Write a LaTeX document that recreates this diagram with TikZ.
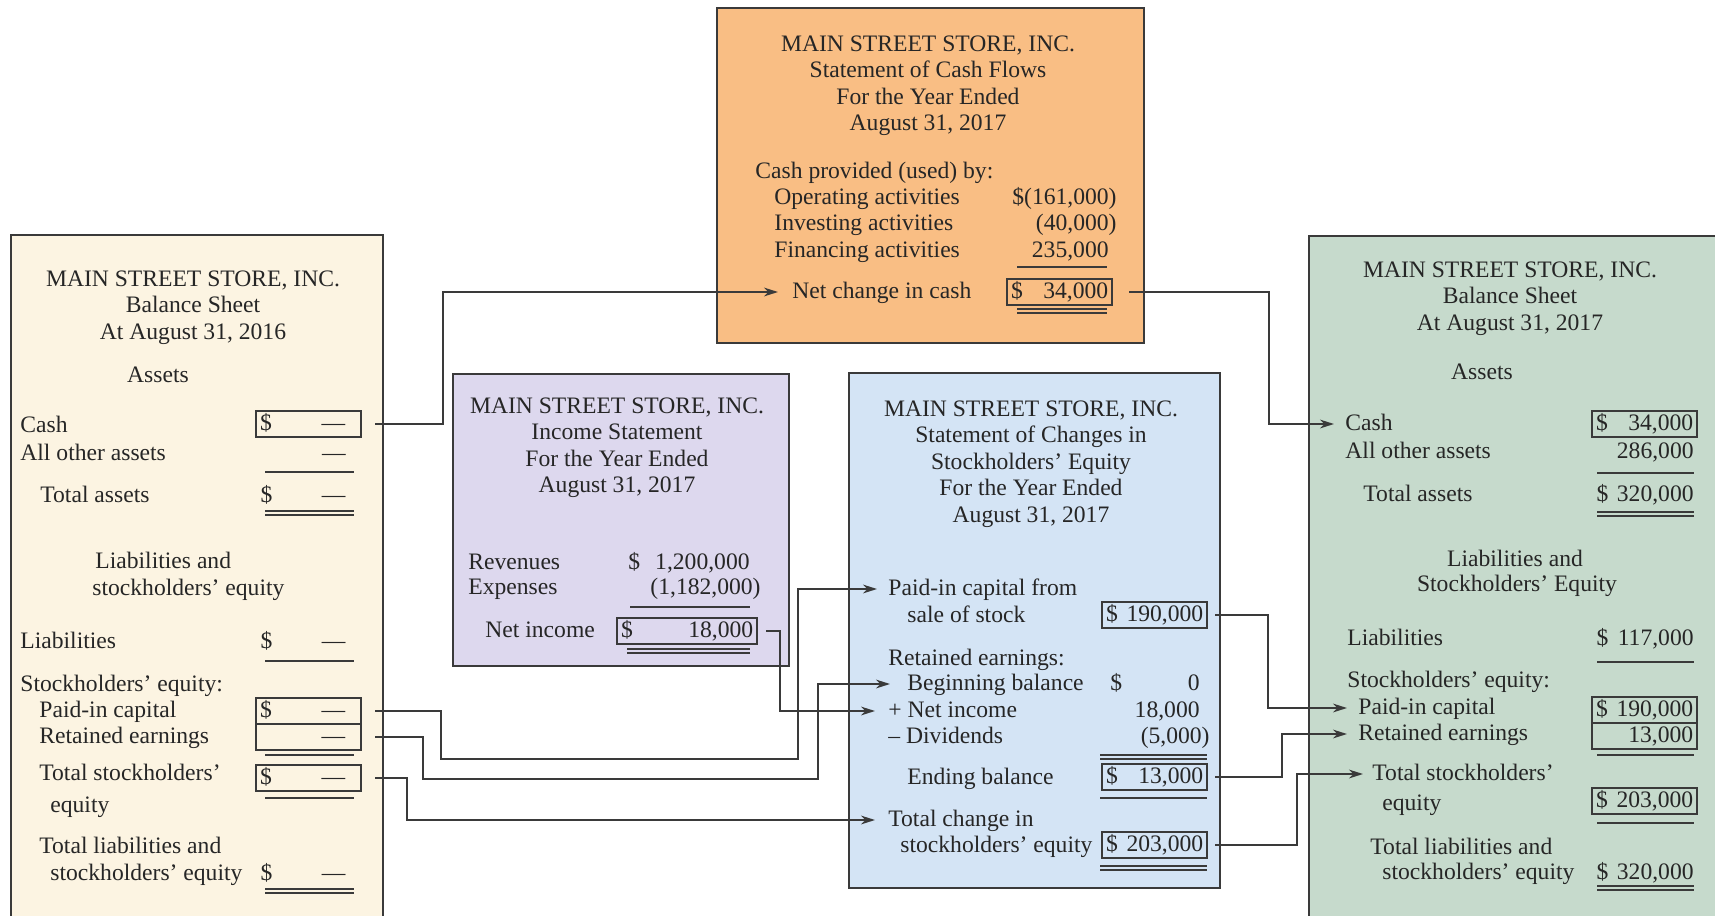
\documentclass[tikz,border=0pt]{standalone}
\usepackage{fontspec}
\setmainfont{Liberation Serif}
\usepackage{tikz}
\usetikzlibrary{arrows.meta,positioning,calc}
\definecolor{ink}{HTML}{262626}
\definecolor{rimgray}{HTML}{3A3A3A}
\definecolor{cream}{HTML}{FCF4E2}
\definecolor{apricot}{HTML}{F9BE84}
\definecolor{lilac}{HTML}{DDD8EE}
\definecolor{sky}{HTML}{D4E4F5}
\definecolor{sage}{HTML}{C6DACC}
\newcommand{\nilamt}{---\kern6pt}

\begin{document}
\begin{tikzpicture}[x=0.5pt,y=-0.5pt,
    font=\fontsize{11.8pt}{13.3pt}\selectfont,text=ink,
    sheet/.style={draw=rimgray,line width=1pt},
    ttl/.style={anchor=north,align=center,inner sep=0pt},
    lbl/.style={anchor=west,inner sep=0pt,text height=9pt,text depth=2.5pt},
    amt/.style={anchor=east,inner sep=0pt,text height=9pt,text depth=2.5pt},
    ctr/.style={inner sep=0pt,text height=9pt,text depth=2.5pt},
    valtxt/.style={anchor=east,text width=48.5pt,inner xsep=2pt,inner ysep=0.5pt,text height=9pt,text depth=3pt},
    valbox/.style={valtxt,draw=rimgray,line width=0.8pt},
    rule/.style={draw=rimgray,line width=0.8pt},
    link/.style={draw=rimgray,line width=0.8pt,-{Stealth[length=7pt,width=4.4pt]}}]
\useasboundingbox (0,0) rectangle (1715,916);
\draw[sheet,fill=cream] (11,235) rectangle (383,930);
\draw[sheet,fill=apricot] (717,8) rectangle (1144,343);
\draw[sheet,fill=lilac] (453,374) rectangle (789,666);
\draw[sheet,fill=sky] (849,373) rectangle (1220,888);
\draw[sheet,fill=sage] (1309,236) rectangle (1725,930);

\node[ttl] (headA) at (193,270) {MAIN STREET STORE, INC.\\Balance Sheet\\At August 31, 2016};
\node[ctr] (assetsA) at (158,376) {Assets};
\node[lbl] (cashAl) at (20,426) {Cash};
\node[valbox] (cashA) at (362,424) {\$\hfill\nilamt};
\node[lbl] (otherA) at (20,454) {All other assets};
\node[valtxt] (otherAv) at (362,454) {\hfill\nilamt};
\node[lbl] (totassA) at (40,496) {Total assets};
\node[valtxt] (totassAv) at (362,496) {\$\hfill\nilamt};
\node[lbl] (liabhA) at (95,562) {Liabilities and};
\node[lbl] (liabhA2) at (92,589) {stockholders' equity};
\node[lbl] (liabA) at (20,642) {Liabilities};
\node[valtxt] (liabAv) at (362,642) {\$\hfill\nilamt};
\node[lbl] (seA) at (20,685) {Stockholders' equity:};
\node[lbl] (paidAl) at (39,711) {Paid-in capital};
\node[valbox] (paidA) at (362,711) {\$\hfill\nilamt};
\node[lbl] (retAl) at (39,737) {Retained earnings};
\node[valbox] (retA) at (362,737) {\hfill\nilamt};
\node[lbl] (totAl) at (39,774) {Total stockholders'};
\node[lbl] (totAl2) at (50,806) {equity};
\node[valbox] (totA) at (362,778) {\$\hfill\nilamt};
\node[lbl] (tleA) at (39,847) {Total liabilities and};
\node[lbl] (tleA2) at (50,874) {stockholders' equity};
\node[valtxt] (tleAv) at (362,874) {\$\hfill\nilamt};
\draw[rule] (265,472) -- (354,472);
\draw[rule] (265,511) -- (354,511) (265,515) -- (354,515);
\draw[rule] (265,661) -- (354,661);
\draw[rule] (265,755) -- (354,755);
\draw[rule] (265,798) -- (354,798);
\draw[rule] (265,889) -- (354,889) (265,893) -- (354,893);

\node[ttl] (headCF) at (928,35) {MAIN STREET STORE, INC.\\Statement of Cash Flows\\For the Year Ended\\August 31, 2017};
\node[lbl] (provCF) at (755,172) {Cash provided (used) by:};
\node[lbl] (opCF) at (774,198) {Operating activities};
\node[amt] (opCFv) at (1117,198) {\$(161,000)};
\node[lbl] (invCF) at (774,224) {Investing activities};
\node[amt] (invCFv) at (1117,224) {(40,000)};
\node[lbl] (finCF) at (774,251) {Financing activities};
\node[amt] (finCFv) at (1109,251) {235,000};
\node[lbl] (netchg) at (792,292) {Net change in cash};
\node[valbox] (netbox) at (1113,292) {\$\hfill 34,000};
\draw[rule] (1017,267) -- (1107,267);
\draw[rule] (1017,309) -- (1107,309) (1017,313) -- (1107,313);

\node[ttl] (headIS) at (617,397) {MAIN STREET STORE, INC.\\Income Statement\\For the Year Ended\\August 31, 2017};
\node[lbl] (revIS) at (468,563) {Revenues};
\node[lbl] (revISd) at (628,563) {\$};
\node[amt] (revISv) at (750,563) {1,200,000};
\node[lbl] (expIS) at (468,588) {Expenses};
\node[amt] (expISv) at (761,588) {(1,182,000)};
\node[lbl] (niIS) at (485,631) {Net income};
\node[valbox,text width=66pt] (niBox) at (758,631) {\$\hfill 18,000};
\draw[rule] (630,607) -- (750,607);
\draw[rule] (627,649) -- (750,649) (627,653) -- (750,653);

\node[ttl] (headSE) at (1031,400) {MAIN STREET STORE, INC.\\Statement of Changes in\\Stockholders' Equity\\For the Year Ended\\August 31, 2017};
\node[lbl] (pcfrom) at (888,589) {Paid-in capital from};
\node[lbl] (pcfrom2) at (907,616) {sale of stock};
\node[valbox] (seCap) at (1208,615) {\$\hfill 190,000};
\node[lbl] (reSE) at (888,659) {Retained earnings:};
\node[lbl] (begbal) at (907,684) {Beginning balance};
\node[lbl] (begbald) at (1110,684) {\$};
\node[amt] (begbalv) at (1200,684) {0};
\node[lbl] (plusni) at (888,711) {+ Net income};
\node[amt] (plusniv) at (1200,711) {18,000};
\node[lbl] (divSE) at (888,737) {\textendash\ Dividends};
\node[amt] (divSEv) at (1210,737) {(5,000)};
\node[lbl] (endbal) at (907,778) {Ending balance};
\node[valbox] (seRE) at (1208,777) {\$\hfill 13,000};
\node[lbl] (totchg) at (888,820) {Total change in};
\node[lbl] (totchg2) at (900,846) {stockholders' equity};
\node[valbox] (seTot) at (1208,845) {\$\hfill 203,000};
\draw[rule] (1100,755) -- (1207,755) (1100,759) -- (1207,759);
\draw[rule] (1100,798) -- (1207,798);
\draw[rule] (1100,866) -- (1207,866) (1100,870) -- (1207,870);

\node[ttl] (headB) at (1510,261) {MAIN STREET STORE, INC.\\Balance Sheet\\At August 31, 2017};
\node[ctr] (assetsB) at (1482,373) {Assets};
\node[lbl] (cashB) at (1345,424) {Cash};
\node[valbox] (cashBv) at (1698,424) {\$\hfill 34,000};
\node[lbl] (otherB) at (1345,452) {All other assets};
\node[valtxt] (otherBv) at (1698,452) {\hfill 286,000};
\node[lbl] (totassB) at (1363,495) {Total assets};
\node[valtxt] (totassBv) at (1698,495) {\$\hfill 320,000};
\node[ctr] (liabhB) at (1515,560) {Liabilities and};
\node[ctr] (liabhB2) at (1517,585) {Stockholders' Equity};
\node[lbl] (liabB) at (1347,639) {Liabilities};
\node[valtxt] (liabBv) at (1698,639) {\$\hfill 117,000};
\node[lbl] (seB) at (1347,681) {Stockholders' equity:};
\node[lbl] (paidB) at (1358,708) {Paid-in capital};
\node[valbox] (paidBv) at (1698,710) {\$\hfill 190,000};
\node[lbl] (retB) at (1358,734) {Retained earnings};
\node[valbox] (retBv) at (1698,736) {\hfill 13,000};
\node[lbl] (totB) at (1372,774) {Total stockholders'};
\node[lbl] (totB2) at (1382,804) {equity};
\node[valbox] (totBv) at (1698,801) {\$\hfill 203,000};
\node[lbl] (tleB) at (1370,848) {Total liabilities and};
\node[lbl] (tleB2) at (1382,873) {stockholders' equity};
\node[valtxt] (tleBv) at (1698,873) {\$\hfill 320,000};
\draw[rule] (1597,473) -- (1694,473);
\draw[rule] (1597,512) -- (1694,512) (1597,516) -- (1694,516);
\draw[rule] (1597,662) -- (1694,662);
\draw[rule] (1597,755) -- (1694,755);
\draw[rule] (1597,823) -- (1694,823);
\draw[rule] (1597,886) -- (1694,886) (1597,890) -- (1694,890);

\draw[link] ($(cashA.east)+(13,0)$) -- ++(68,0) |- ($(netchg.west)+(-14,0)$);
\draw[link] ($(netbox.east)+(16,0)$) -- ++(140,0) |- ($(cashB.west)+(-11,0)$);
\draw[link] ($(paidA.east)+(13,0)$) -- ++(66,0) -- ++(0,48) -| ($(pcfrom.west)+(-90,0)$) -- ($(pcfrom.west)+(-11,0)$);
\draw[link] ($(retA.east)+(13,0)$) -- ++(48,0) -- ++(0,42) -| ($(begbal.west)+(-89,0)$) -- ($(begbal.west)+(-17,0)$);
\draw[link] ($(niBox.east)+(8,0)$) -- ++(14,0) |- ($(plusni.west)+(-13,0)$);
\draw[link] ($(totA.east)+(13,0)$) -- ++(32,0) |- ($(totchg.west)+(-13,0)$);
\draw[link] ($(seCap.east)+(7,0)$) -- ++(53,0) |- ($(paidB.west)+(-11,0)$);
\draw[link] ($(seRE.east)+(7,0)$) -- ++(67,0) |- ($(retB.west)+(-11,0)$);
\draw[link] ($(seTot.east)+(7,0)$) -- ++(82,0) |- ($(totB.west)+(-9,0)$);
\end{tikzpicture}
\end{document}
